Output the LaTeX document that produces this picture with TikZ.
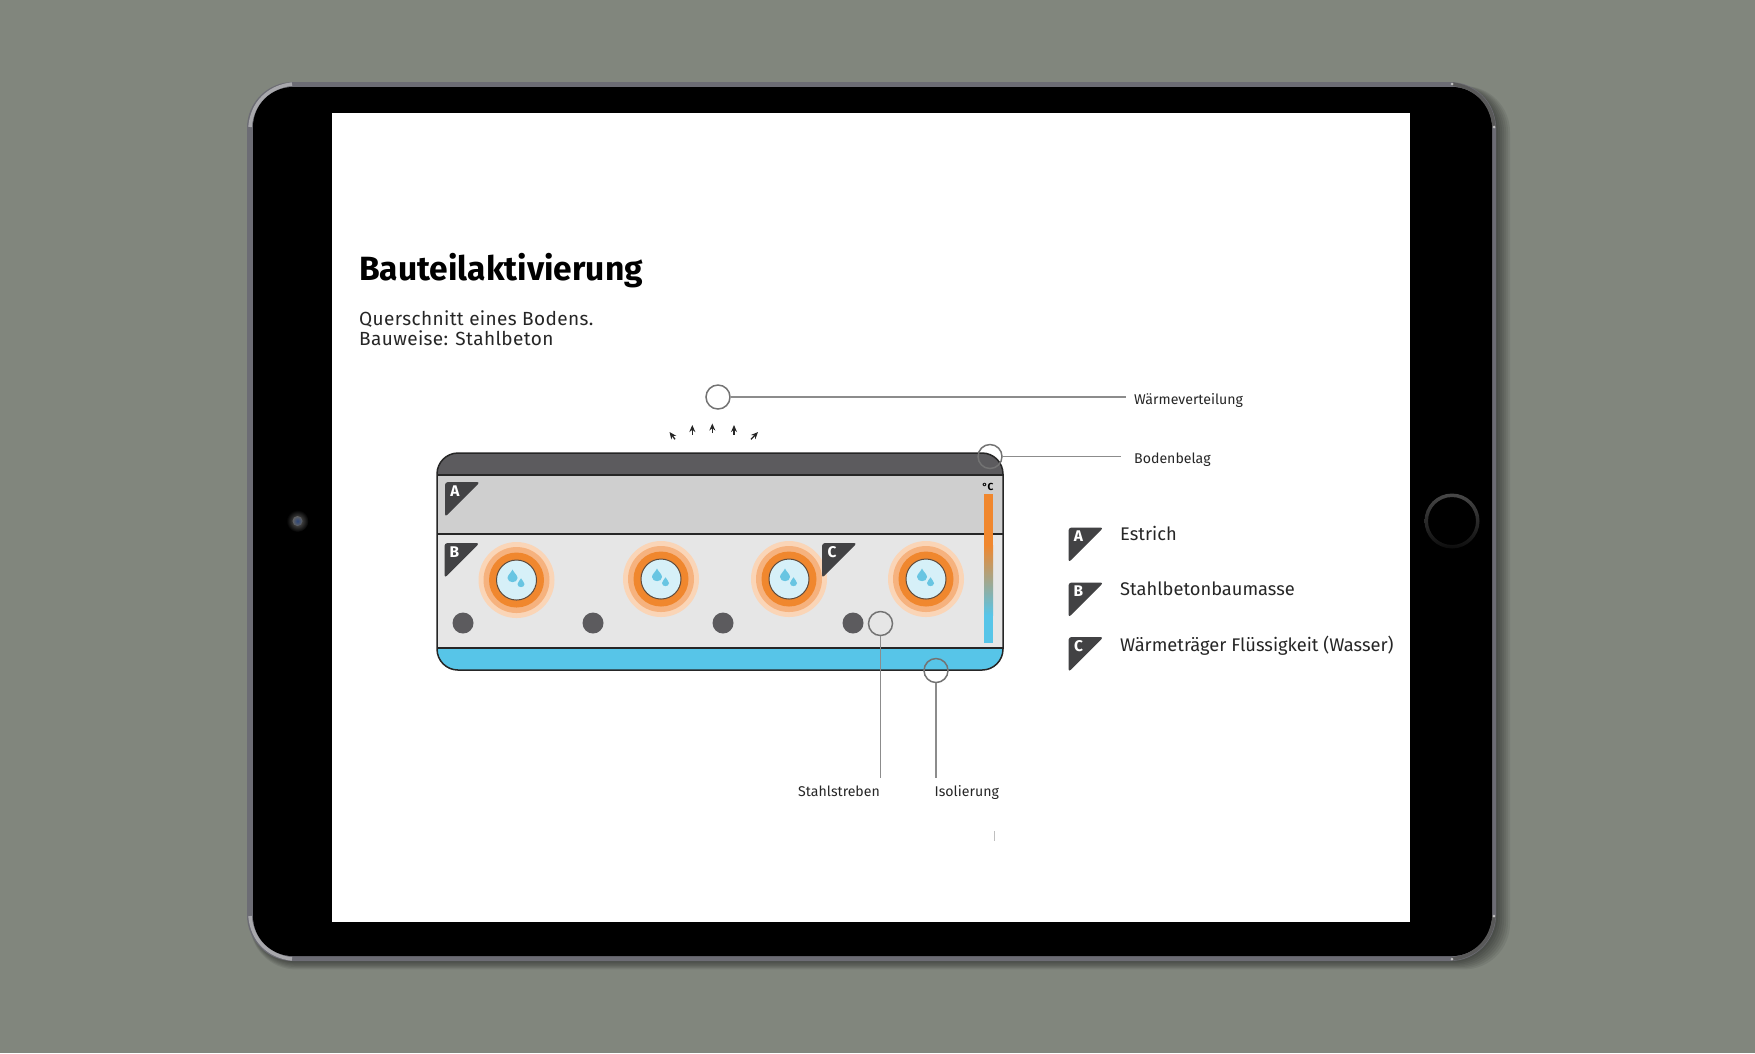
\documentclass[tikz,border=0pt]{standalone}
\usepackage{fontspec}
\setmainfont{Fira Sans}
\newfontfamily\spacedfont[LetterSpace=2]{Fira Sans}
\usetikzlibrary{calc,arrows.meta}
\definecolor{wallgray}{RGB}{129,134,125}
\definecolor{framegray}{RGB}{108,108,116}
\definecolor{edgegray}{RGB}{168,168,172}
\definecolor{floordark}{RGB}{92,91,94}
\definecolor{estrichgray}{RGB}{207,207,207}
\definecolor{betongray}{RGB}{230,230,230}
\definecolor{isoblue}{RGB}{87,197,232}
\definecolor{dropblue}{RGB}{104,197,226}
\definecolor{flaggray}{RGB}{66,66,68}
\definecolor{ringa}{RGB}{250,213,183}
\definecolor{ringb}{RGB}{246,178,126}
\definecolor{ringc}{RGB}{240,135,46}
\definecolor{waterblue}{RGB}{214,240,248}
\definecolor{pipeline}{RGB}{95,75,60}
\definecolor{camblue}{RGB}{45,70,120}
\def\flag(#1,#2)#3{\fill[flaggray, rounded corners=0.03cm] (#1, #2+35) -- (#1, #2) -- (#1+35, #2) -- cycle;
	\node[flagletter] at (#1+10, #2+9) {#3};}
\def\waterpipe(#1,#2){\fill[ringa] (#1, #2) circle (38);
	\fill[ringb] (#1, #2) circle (33);
	\fill[ringc] (#1, #2) circle (27.5);
	\draw[fill=waterblue, line width=0.1mm, color=pipeline, fill=waterblue] (#1, #2) circle (20);
	\fill[dropblue, shift={(#1-4, #2-3)}, scale=5] (0, -1.5) .. controls (0.3, -0.8) and (1, -0.4) .. (1, 0.2) .. controls (1, 1.3) and (-1, 1.3) .. (-1, 0.2) .. controls (-1, -0.4) and (-0.3, -0.8) .. (0, -1.5);
	\fill[dropblue, shift={(#1+4.5, #2+3.5)}, scale=3.5] (0, -1.5) .. controls (0.3, -0.8) and (1, -0.4) .. (1, 0.2) .. controls (1, 1.3) and (-1, 1.3) .. (-1, 0.2) .. controls (-1, -0.4) and (-0.3, -0.8) .. (0, -1.5);}
\tikzset{
	callout/.style={circle, draw=black!55, line width=0.15mm, minimum size=0.24cm, inner sep=0pt},
	leader/.style={color=black!45, line width=0.15mm},
	smalllabel/.style={anchor=base west, inner sep=0pt, text=black!85, font=\fontsize{4.02}{5}\selectfont},
	legendlabel/.style={anchor=base west, inner sep=0pt, text=black!85, font=\fontsize{5.2}{6.5}\selectfont},
	sublabel/.style={anchor=base west, inner sep=0pt, text=black!85, font=\fontsize{5.4}{6.5}\selectfont\spacedfont},
	flagletter/.style={text=white, inner sep=0pt, font=\fontsize{4.4}{5}\selectfont\bfseries},
	heatarrow/.style={-{Stealth[length=0.07cm, width=0.06cm]}, line width=0.13mm, color=black!85}
}

\begin{document}
\begin{tikzpicture}[x=0.01cm, y=-0.01cm]
			%%%%% START %%%%%
			\useasboundingbox (0, 0) rectangle (1755, 1053);
			\fill[wallgray] (0, 0) rectangle (1755, 1053);
			
			% tablet
			\foreach \s in {2, 4, ..., 14} {
				\fill[black, opacity=0.07, rounded corners=0.46cm] (250, 86) rectangle (1496+\s, 961+0.6*\s);
			}
			\fill[framegray, rounded corners=0.46cm] (247, 82) rectangle (1496, 961);
			\fill[black, rounded corners=0.4cm] (253, 87) rectangle (1492, 956);
			\draw[edgegray, line width=0.35mm] (250, 127) .. controls (252, 103) and (268, 87) .. (292, 84);
			\draw[edgegray, line width=0.35mm] (250, 916) .. controls (252, 940) and (268, 956) .. (292, 959);
			\draw[black!65, line width=0.35mm] (1494, 127) .. controls (1492, 103) and (1476, 87) .. (1452, 84);
			\draw[black!65, line width=0.35mm] (1494, 916) .. controls (1492, 940) and (1476, 956) .. (1452, 959);
			\foreach \x/\y in {1452/84, 1494/127, 1494/916, 1452/959} {
				\fill[black!25] (\x, \y) circle (1.5);
			}
			\fill[white] (332, 113) rectangle (1410, 922);
			\shade[top color=black!72, bottom color=black!95, even odd rule] (1452, 521) circle (27.5) (1452, 521) circle (24);
			\shade[inner color=black!60, outer color=black] (297.5, 521) circle (11);
			\shade[inner color=camblue, outer color=black!62] (297.5, 521) circle (5);
			
			% title
			\node[anchor=base west, inner sep=0pt, font=\fontsize{9.55}{12}\selectfont\bfseries] (title) at (358.5, 280) {Bauteilaktivierung};
			\node[sublabel] (sub1) at (358.5, 325.5) {Querschnitt eines Bodens.};
			\node[sublabel] (sub2) at (358.5, 345) {Bauweise: Stahlbeton};
			
			% floor layers
			\begin{scope}
				\clip[rounded corners=0.21cm] (437, 453) rectangle (1003, 670);
				\fill[floordark] (437, 453) rectangle (1003, 475);
				\fill[estrichgray] (437, 475) rectangle (1003, 534);
				\fill[betongray] (437, 534) rectangle (1003, 648);
				\fill[isoblue] (437, 648) rectangle (1003, 670);
			\end{scope}
			\draw[line width=0.15mm, color=black!85, rounded corners=0.21cm] (437, 453) rectangle (1003, 670);
			\draw[line width=0.2mm, color=black!85] (437, 475) -- (1003, 475);
			\draw[line width=0.2mm, color=black!85] (437, 534) -- (1003, 534);
			\draw[line width=0.2mm, color=black!85] (437, 648) -- (1003, 648);
			
			% heating pipes
			\waterpipe(516.5, 580)
			\waterpipe(661, 579)
			\waterpipe(789, 579)
			\waterpipe(926, 579)
			
			% steel bars
			\foreach \x in {463, 593, 723, 853} {
				\fill[floordark] (\x, 623) circle (10.5);
			}
			
			% flags
			\flag(445, 482){A}
			\flag(444.5, 543){B}
			\flag(822, 543){C}
			
			% temperature bar
			\fill[ringc] (984, 494) rectangle (993, 545);
			\shade[top color=ringc, bottom color=isoblue] (984, 545) rectangle (993, 615);
			\fill[isoblue] (984, 615) rectangle (993, 643);
			\node[inner sep=0pt, font=\fontsize{2.9}{3}\selectfont\bfseries] (degree) at (988, 487) {°C};
			
			% heat arrows
			\draw[heatarrow] (675, 439.3) -- (669.5, 432);
			\draw[heatarrow] (692.3, 434.5) -- (692.3, 425);
			\draw[heatarrow] (712.3, 433) -- (712.3, 423.5);
			\draw[heatarrow] (734, 434.5) -- (734, 425);
			\draw[heatarrow] (751, 439.3) -- (758, 432);
			
			% callouts
			\node[callout] (waerme) at (718, 397) {};
			\coordinate (waermeend) at (1126, 397);
			\draw[leader] (waerme) -- (waermeend);
			\node[smalllabel] (waermetext) at (1133.5, 404.5) {Wärmeverteilung};
			
			\node[callout] (belag) at (990, 456.5) {};
			\coordinate (belagend) at (1121, 456.5);
			\draw[leader] (belag) -- (belagend);
			\node[smalllabel] (belagtext) at (1133.5, 463.5) {Bodenbelag};
			
			\node[callout] (streben) at (880.5, 623.5) {};
			\coordinate (strebenend) at (880.5, 778);
			\draw[leader] (streben) -- (strebenend);
			\node[smalllabel] (strebentext) at (797.5, 796) {Stahlstreben};
			
			\node[callout] (iso) at (936, 670.5) {};
			\coordinate (isoend) at (936, 778);
			\draw[leader] (iso) -- (isoend);
			\node[smalllabel] (isotext) at (934, 796) {Isolierung};
			
			\draw[black!25, line width=0.1mm] (994, 831) -- (994, 841);
			
			% legend
			\flag(1068.5, 527.5){A}
			\node[legendlabel] (legenda) at (1119.5, 540.5) {Estrich};
			\flag(1068.5, 582.5){B}
			\node[legendlabel] (legendb) at (1119.5, 595.5) {Stahlbetonbaumasse};
			\flag(1068.5, 637){C}
			\node[legendlabel] (legendc) at (1119.5, 651) {Wärmeträger Flüssigkeit (Wasser)};
			%%%%% END %%%%%
		\end{tikzpicture}
\end{document}
